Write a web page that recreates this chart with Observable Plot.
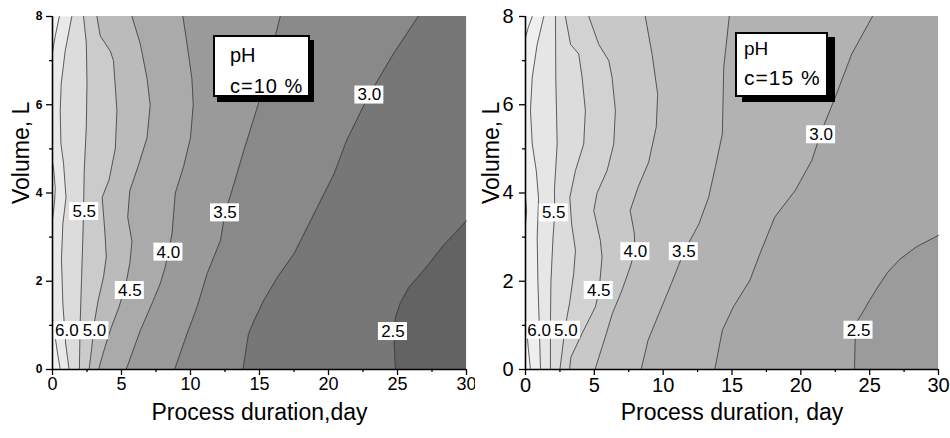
<!DOCTYPE html>
<html>
<head>
<meta charset="utf-8">
<script src="https://cdn.jsdelivr.net/npm/d3@7"></script>
<script src="https://cdn.jsdelivr.net/npm/@observablehq/plot@0.6"></script>
<style>
  html, body { margin: 0; padding: 0; background: #fff; }
  #wrap { position: relative; width: 950px; height: 438px; overflow: hidden; font-family: "Liberation Sans", Arial, sans-serif; }
  .pane { position: absolute; top: 0; width: 475px; height: 438px; }
  .leg { position: absolute; background: #fff; border: 2px solid #000; box-sizing: border-box; }
  .leg span { position: absolute; white-space: nowrap; color: #000; }
</style>
</head>
<body>
<div id="wrap">
  <div class="pane" id="p10" style="left:0"></div>
  <div class="pane" id="p15" style="left:475px"></div>
  <div class="leg" style="left:213px;top:35px;width:97px;height:62px;box-shadow:4px 5px 0 #000;">
    <span style="left:15px;top:8px;font-size:20px;line-height:20px;">pH</span>
    <span style="left:15px;top:39px;font-size:20px;line-height:20px;letter-spacing:1px;">c=10 %</span>
  </div>
  <div class="leg" style="left:735px;top:32px;width:93px;height:65px;box-shadow:7px 5px 0 #000;">
    <span style="left:7px;top:5px;font-size:19px;line-height:19px;">pH</span>
    <span style="left:7px;top:33px;font-size:21px;line-height:21px;letter-spacing:1px;">c=15 %</span>
  </div>
</div>
<script>
// ---- axes ----
const xDomain = [0, 30];
const yDomain = [0, 8];
const xMajor = [0, 5, 10, 15, 20, 25, 30];
const xMinor = [2.5, 7.5, 12.5, 17.5, 22.5, 27.5];
const yMajor = [0, 2, 4, 6, 8];
const yMinor = [1, 3, 5, 7];
const xTitle10 = "Process duration,day";
const xTitle15 = "Process duration, day";
const yTitle = "Volume, L";
const levels = ["6.0", "5.5", "5.0", "4.5", "4.0", "3.5", "3.0", "2.5"];

// ---- c = 10 % : contour lines, [day, volume] ----
const c10_65_bottom = [[0.56,0],[0.35,0.4],[0.12,0.9],[0,1.15]];
const c10_65_mid = [[0,3.4],[0.15,3.8],[0.2,4.1],[0.1,4.5],[0,4.7]];
const c10_65_top = [[0,7.2],[0.2,7.56],[0.5,8]];
const c10_60 = [[1.2,0],[0.95,0.6],[0.75,1.5],[0.65,2.5],[0.75,3.3],[0.98,3.9],[0.8,4.67],[0.61,5.12],[0.56,5.87],[0.63,6.47],[0.92,7.22],[1.4,8]];
const c10_55 = [[1.95,0],[2.0,1.0],[2.1,2.0],[2.2,3.0],[2.25,3.6],[2.3,4.5],[2.45,5.5],[2.5,6.5],[2.45,7.4],[2.25,8]];
const c10_50 = [[2.65,0],[2.85,0.5],[3.0,1.0],[3.3,1.55],[3.7,2.1],[3.9,2.55],[3.8,3.1],[3.6,3.9],[4.1,4.3],[4.55,5.0],[4.67,5.87],[4.42,7.0],[4.18,7.22],[3.46,7.56],[3.22,8]];
const c10_45 = [[3.34,0],[3.7,0.4],[4.2,0.9],[4.8,1.4],[5.3,1.9],[5.6,2.4],[5.76,2.9],[5.45,3.45],[5.6,4.05],[6.2,4.6],[6.85,5.25],[7.08,6.0],[6.85,6.6],[6.36,7.38],[5.76,8]];
const c10_40 = [[5.34,0],[6.36,0.88],[7.3,1.56],[7.8,1.94],[8.17,2.32],[8.4,2.66],[8.66,3.07],[8.9,4.0],[9.5,4.6],[10.0,5.25],[10.2,6.0],[10.1,6.6],[9.75,7.38],[9.45,8]];
const c10_35 = [[8.85,0],[9.75,0.81],[10.47,1.41],[11.2,2.17],[12.17,2.92],[12.5,3.55],[13.0,4.05],[13.9,5.0],[14.9,6.0],[15.7,7.0],[16.5,8]];
const c10_30 = [[13.8,0],[14.2,0.8],[14.6,1.1],[15.3,1.56],[16.3,2.09],[17.5,2.62],[19.2,3.68],[20.4,4.43],[21.3,5.18],[22.9,6.2],[24.7,7.15],[26.5,8]];
const c10_25 = [[24.85,0],[24.75,0.66],[24.85,1.18],[25.2,1.5],[25.8,1.85],[26.5,2.1],[27.3,2.4],[28.3,2.8],[29.2,3.1],[30,3.37]];
const c10_labelX = [1.04, 3.04, 2.3, 5.6, 8.4, 12.5, 22.96, 24.67];
const c10_labelY = [0.88, 0.88, 3.58, 1.79, 2.66, 3.55, 6.22, 0.86];
const c10_labelText = ["6.0", "5.0", "5.5", "4.5", "4.0", "3.5", "3.0", "2.5"];

// ---- c = 15 % ----
const c15_65_bottom = [[0.36,0],[0.2,0.5],[0.06,1.0],[0,1.15]];
const c15_65_mid = [[0,3.3],[0.08,3.6],[0,3.9]];
const c15_65_top = [[0,7.52],[0.2,7.75],[0.49,8]];
const c15_60 = [[1.09,0],[1.0,1.0],[0.9,2.0],[0.85,3.0],[0.95,3.87],[0.78,4.51],[0.49,5.11],[0.36,5.87],[0.49,6.62],[0.85,7.37],[1.33,8]];
const c15_55 = [[1.81,0],[1.81,1.0],[1.85,2.0],[2.0,3.0],[2.13,3.55],[2.1,4.06],[2.3,5.11],[2.2,6.62],[2.18,8]];
const c15_50 = [[2.5,0],[2.7,0.5],[2.9,1.0],[3.2,1.5],[3.5,2.17],[3.63,2.7],[3.35,3.3],[3.22,3.9],[3.63,4.51],[4.23,5.11],[4.35,5.87],[4.11,6.62],[3.87,7.15],[3.27,7.37],[2.9,8]];
const c15_45 = [[3.2,0],[3.3,0.28],[4.1,0.81],[5.08,1.42],[5.35,1.8],[5.56,2.55],[5.44,2.92],[4.96,3.6],[5.2,4.0],[5.93,4.51],[6.41,5.11],[6.53,5.87],[6.29,6.62],[6.05,7.0],[5.32,7.37],[4.6,8]];
const c15_40 = [[5.05,0],[5.8,0.74],[6.3,1.26],[7.0,1.79],[7.6,2.32],[7.95,2.7],[7.9,3.1],[7.6,3.6],[8.2,4.15],[8.95,4.7],[9.5,5.5],[9.6,6.24],[9.2,7.14],[8.7,8]];
const c15_35 = [[8.4,0],[8.9,0.66],[9.7,1.27],[10.6,1.95],[11.5,2.66],[12.6,3.3],[13.3,3.9],[13.8,4.6],[14.3,5.34],[14.4,6.85],[14.8,8]];
const c15_30 = [[13.75,0],[14.3,0.89],[15.1,1.42],[16.3,2.02],[17.0,2.6],[18.1,3.45],[19.6,4.06],[20.8,4.74],[21.5,5.4],[22.5,6.17],[23.7,7.15],[25.2,8]];
const c15_25 = [[23.9,0],[23.95,0.7],[24.1,1.1],[24.5,1.3],[25.0,1.57],[25.6,1.87],[26.3,2.2],[27.2,2.5],[28.4,2.78],[30,3.04]];
const c15_labelX = [0.99, 2.93, 2.05, 5.32, 7.98, 11.5, 21.47, 24.19];
const c15_labelY = [0.89, 0.89, 3.55, 1.79, 2.67, 2.67, 5.32, 0.89];
const c15_labelText = ["6.0", "5.0", "5.5", "4.5", "4.0", "3.5", "3.0", "2.5"];

// ---- band colours (above 6.5, 6.0–6.5, then below each level 6.0 … 2.5) ----
const c10_colors = ["#f3f3f3", "#e9e9e9", "#dcdcdc", "#cbcbcb", "#bbbbbb", "#aaaaaa", "#9a9a9a", "#898989", "#777777", "#636363"];
const c15_colors = ["#f6f6f6", "#efefef", "#e6e6e6", "#dcdcdc", "#d2d2d2", "#c8c8c8", "#bdbdbd", "#b2b2b2", "#a7a7a7", "#9b9b9b"];

const pts = a => a.map(([x, y]) => ({x, y}));

function panel(cfg) {
  const marks = [];
  marks.push(Plot.frame({fill: cfg.colors[1], stroke: null}));
  for (const p of cfg.pockets) {
    marks.push(Plot.areaX(pts(p), {y: "y", x1: xDomain[0], x2: "x", fill: cfg.colors[0]}));
  }
  cfg.lines.forEach((l, i) => {
    marks.push(Plot.areaX(pts(l), {y: "y", x1: "x", x2: xDomain[1], fill: cfg.colors[i + 2]}));
  });
  for (const l of [...cfg.pockets, ...cfg.lines]) {
    marks.push(Plot.line(pts(l), {x: "x", y: "y", stroke: "#3a3a3a", strokeWidth: 0.8}));
  }
  const lab = cfg.labelText.map((t, i) => ({t, x: cfg.labelX[i], y: cfg.labelY[i]}));
  marks.push(Plot.rect(lab, {x1: "x", x2: "x", y1: "y", y2: "y", insetLeft: -14.5, insetRight: -14.5, insetTop: -9, insetBottom: -9, fill: "white"}));
  marks.push(Plot.text(lab, {x: "x", y: "y", text: "t", fontSize: 17, fill: "black"}));
  // axes
  marks.push(Plot.axisX(xMajor, {tickSize: 6, tickPadding: 2, fontSize: cfg.xFont, label: null, strokeWidth: 1.3}));
  marks.push(Plot.axisX(xMinor, {tickSize: 3, tickFormat: () => "", label: null, strokeWidth: 1.3}));
  marks.push(Plot.axisY(yMajor, {tickSize: 6, tickPadding: cfg.yPad, fontSize: cfg.yFont, fontWeight: cfg.yWeight, label: null, strokeWidth: 1.3}));
  marks.push(Plot.axisY(yMinor, {tickSize: 3, tickFormat: () => "", label: null, strokeWidth: 1.3}));
  marks.push(Plot.ruleX([xDomain[0]], {stroke: "black", strokeWidth: 1.6}));
  marks.push(Plot.ruleY([yDomain[0]], {stroke: "black", strokeWidth: 1.6}));
  marks.push(Plot.text([cfg.xTitle], {text: d => d, frameAnchor: "bottom", dy: 50, fontSize: 23, fill: "black"}));
  marks.push(Plot.text([yTitle], {text: d => d, frameAnchor: "left", rotate: -90, dx: cfg.yTitleDx, dy: 11, fontSize: 23, fill: "black"}));
  return Plot.plot({
    width: 475,
    height: 438,
    marginLeft: cfg.marginLeft,
    marginRight: cfg.marginRight,
    marginTop: 16,
    marginBottom: 69,
    x: {domain: xDomain},
    y: {domain: yDomain},
    style: {fontFamily: '"Liberation Sans", Arial, sans-serif', color: "black", background: "white", overflow: "visible"},
    marks
  });
}

document.getElementById("p10").appendChild(panel({
  pockets: [c10_65_bottom, c10_65_mid, c10_65_top],
  lines: [c10_60, c10_55, c10_50, c10_45, c10_40, c10_35, c10_30, c10_25],
  colors: c10_colors,
  labelX: c10_labelX, labelY: c10_labelY, labelText: c10_labelText,
  marginLeft: 52, marginRight: 9,
  xFont: 18, yFont: 12, yWeight: "bold", yPad: 4,
  xTitle: xTitle10, yTitleDx: -31
}));
document.getElementById("p15").appendChild(panel({
  pockets: [c15_65_bottom, c15_65_mid, c15_65_top],
  lines: [c15_60, c15_55, c15_50, c15_45, c15_40, c15_35, c15_30, c15_25],
  colors: c15_colors,
  labelX: c15_labelX, labelY: c15_labelY, labelText: c15_labelText,
  marginLeft: 50, marginRight: 12,
  xFont: 20, yFont: 20, yWeight: "normal", yPad: 6,
  xTitle: xTitle15, yTitleDx: -34
}));
</script>
</body>
</html>
